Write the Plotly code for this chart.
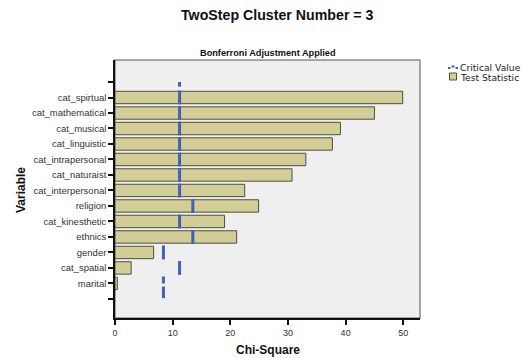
import plotly.graph_objects as go

# ---- data ----
variables = ["cat_spirtual", "cat_mathematical", "cat_musical", "cat_linguistic",
             "cat_intrapersonal", "cat_naturaist", "cat_interpersonal", "religion",
             "cat_kinesthetic", "ethnics", "gender", "cat_spatial", "marital"]
test_statistic = [49.9, 45.0, 39.1, 37.7, 33.1, 30.7, 22.5, 24.9, 19.0, 21.1, 6.7, 2.8, 0.4]
critical_value = [11.2, 11.2, 11.2, 11.2, 11.2, 11.2, 11.2, 13.5, 11.2, 13.5, 8.4, 11.2, 8.4]
x_ticks = [0, 10, 20, 30, 40, 50]

# tick labels include an empty slot above and below (as in the SPSS chart)
tick_labels = [""] + variables + [""]
positions = list(range(1, len(variables) + 1))

# ---- geometry (screen pixels; the page body has an 8px margin) ----
OFF = 8
W, H = 531 - OFF, 358 - OFF
L, R, T, B = 115, 420, 60, 318          # plot area in screenshot pixels
def px(x):
    return (x - L) / (R - L)
def py(y):
    return (B - y) / (B - T)

BAR = "#d3ce98"
BLUE = "#4262b4"
FONT = "Liberation Sans, Arial, sans-serif"

fig = go.Figure()

fig.add_trace(go.Bar(
    y=positions, x=test_statistic, orientation="h", width=0.8,
    marker=dict(color=BAR, line=dict(color="#4e4e40", width=1)),
    name="Test Statistic", showlegend=False, hoverinfo="x+text",
    text=variables, textposition="none",
))

# critical value: a dashed vertical stroke per variable
cx, cy = [], []
n = len(variables)
for i, (p, c) in enumerate(zip(positions, critical_value)):
    if i == 0:
        cx += [c, c, None]
        cy += [p - 1.0, p - 0.7, None]
    if i == n - 1:
        cx += [c, c, None, c, c, None]
        cy += [p - 0.45, p, None, p + 0.2, p + 0.95, None]
    else:
        cx += [c, c, None]
        cy += [p - 0.45, p + 0.45, None]
fig.add_trace(go.Scatter(
    x=cx, y=cy, mode="lines", line=dict(color=BLUE, width=3),
    name="Critical Value", showlegend=False, hoverinfo="x",
))

shapes = [
    dict(type="rect", xref="paper", yref="paper", x0=0, x1=1, y0=0, y1=1,
         line=dict(color="#8a8a8a", width=1.5), fillcolor="rgba(0,0,0,0)", layer="below"),
    dict(type="line", xref="paper", yref="paper", x0=px(448), x1=px(450.5), y0=py(68), y1=py(68),
         line=dict(color=BLUE, width=2)),
    dict(type="line", xref="paper", yref="paper", x0=px(451.5), x1=px(454.5), y0=py(66.5), y1=py(66.5),
         line=dict(color=BLUE, width=2)),
    dict(type="line", xref="paper", yref="paper", x0=px(455.5), x1=px(458), y0=py(68), y1=py(68),
         line=dict(color=BLUE, width=2)),
    dict(type="rect", xref="paper", yref="paper", x0=px(449.5), x1=px(456.5), y0=py(80), y1=py(73),
         line=dict(color="#4e4e40", width=1), fillcolor=BAR),
]

LEG_FONT = dict(family="DejaVu Sans, Verdana, sans-serif", size=9.2, color="#222")
annotations = [
    dict(text="<b>TwoStep Cluster Number = 3</b>", x=px(277), y=py(15.5), xref="paper", yref="paper",
         showarrow=False, font=dict(size=14.2, color="#111"), xanchor="center", yanchor="middle"),
    dict(text="<b>Bonferroni Adjustment Applied</b>", x=px(268), y=py(53), xref="paper", yref="paper",
         showarrow=False, font=dict(size=9.2, color="#111"), xanchor="center", yanchor="middle"),
    dict(text="<b>Variable</b>", x=px(21), y=py(190), xref="paper", yref="paper", textangle=-90,
         showarrow=False, font=dict(size=12, color="#111"), xanchor="center", yanchor="middle"),
    dict(text="<b>Chi-Square</b>", x=px(267.5), y=py(350), xref="paper", yref="paper",
         showarrow=False, font=dict(size=12, color="#111"), xanchor="center", yanchor="middle"),
    dict(text="Critical Value", x=px(459), y=py(67.5), xref="paper", yref="paper",
         showarrow=False, font=LEG_FONT, xanchor="left", yanchor="middle", borderpad=0),
    dict(text="Test Statistic", x=px(459), y=py(77), xref="paper", yref="paper",
         showarrow=False, font=LEG_FONT, xanchor="left", yanchor="middle", borderpad=0),
]

fig.update_layout(
    width=W, height=H,
    margin=dict(l=L - OFF, r=W - (R - OFF), t=T - OFF, b=H - (B - OFF), pad=0),
    paper_bgcolor="white", plot_bgcolor="#efefef",
    font=dict(family=FONT, size=9.5, color="#222"),
    showlegend=False, bargap=0.2,
    shapes=shapes, annotations=annotations,
    xaxis=dict(range=[0, 52.9], tickvals=x_ticks, ticks="outside", ticklen=5, tickwidth=1.5,
               tickcolor="#111", showline=True, linecolor="#111", linewidth=1.5,
               showgrid=False, zeroline=False, tickfont=dict(size=9, color="#333")),
    yaxis=dict(range=[len(tick_labels) - 1 + 1.23, -1.42], tickvals=list(range(len(tick_labels))),
               ticktext=tick_labels, ticks="outside", ticklen=5, tickwidth=1.5, tickcolor="#111",
               showline=True, linecolor="#111", linewidth=1.5, showgrid=False, zeroline=False,
               tickfont=dict(size=9.5, color="#333")),
)

fig.write_html("out.html")
